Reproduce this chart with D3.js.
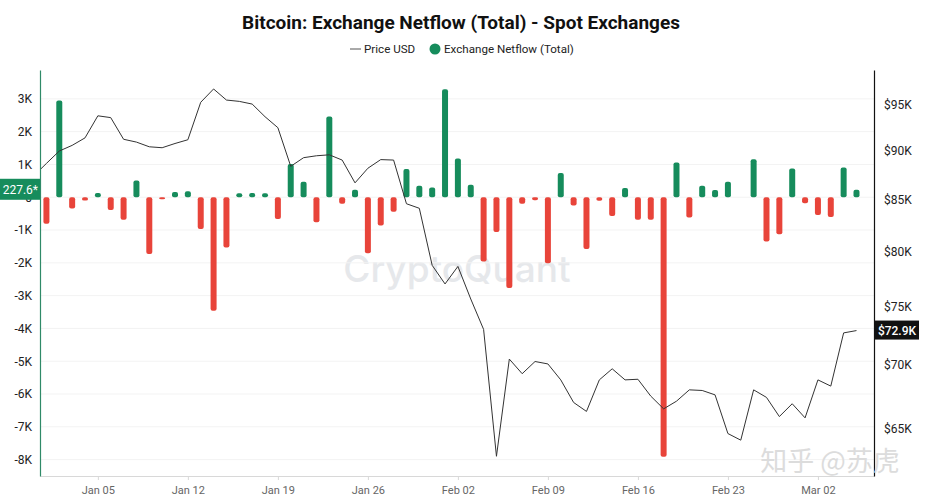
<!DOCTYPE html>
<html>
<head>
<meta charset="utf-8">
<script src="https://cdn.jsdelivr.net/npm/d3@7"></script>
<style>
  body { margin: 0; background: #fff; }
  svg { display: block; font-family: Roboto, "Noto Sans", sans-serif; }
</style>
</head>
<body>
<div id="chart"></div>
<script>
// price series starts one day before the netflow bars (Dec 31)
const priceStart = Date.UTC(2025, 11, 31);

// daily netflow (BTC), Jan 01 .. Mar 05
const netflow = [
  -810, 2950, -340, -100, 130, -390, -690, 510, -1730, -60,
  160, 180, -970, -3460, -1530, 120, 130, 120, -660, 1010,
  470, -760, 2460, -200, 230, -1710, -860, -440, 860, 350,
  300, 3290, 1180, 380, -1960, -1060, -2770, -200, -90, -2010,
  740, -250, -1580, -110, -570, 280, -690, -690, -7910, 1060,
  -620, 350, 220, 470, 0, 1160, -1350, -1130, 880, -180,
  -540, -600, 910, 227.6
];

// daily BTC price (USD), Dec 31 .. Mar 05
const price = [
  87400,
  88700, 90000, 90600, 91400, 93800, 93600, 91250, 90950, 90450, 90350,
  90800, 91200, 95300, 96800, 95550, 95400, 95100, 93700, 92500, 88400,
  89300, 89500, 89600, 89050, 86700, 88200, 89100, 89050, 84600, 84150,
  78700, 77000, 78600, 75650, 73000, 62900, 70500, 69300, 70300, 70100,
  68800, 67000, 66300, 68800, 69700, 68800, 68850, 67500, 66500, 67100,
  68000, 67950, 67600, 64600, 64100, 68000, 67400, 65900, 66900, 65800,
  68800, 68300, 72700, 72900
];

const netflowTicks = [-8000, -7000, -6000, -5000, -4000, -3000, -2000, -1000, 0, 1000, 2000, 3000];
const priceTicks = [65000, 70000, 75000, 80000, 85000, 90000, 95000];
const weekTicks = ["2026-01-05", "2026-01-12", "2026-01-19", "2026-01-26", "2026-02-02",
                   "2026-02-09", "2026-02-16", "2026-02-23", "2026-03-02"];

const green = "#168c5c", red = "#e8443a";
const width = 926, height = 500;
const margins = {top: 70, right: 52, bottom: 24, left: 40};

const days = d3.utcDay.range(new Date(priceStart), d3.utcDay.offset(new Date(priceStart), price.length));
const priceData = days.map((d, i) => ({date: d, value: price[i]}));
const flowData = days.slice(1).map((d, i) => ({date: d, value: netflow[i]}));

const svg = d3.select("#chart")
  .append("svg")
  .attr("width", width)
  .attr("height", height);

const xScale = d3.scaleUtc()
  .domain([new Date(Date.UTC(2025, 11, 31, 12)), new Date(Date.UTC(2026, 2, 6, 8, 40))])
  .range([margins.left, width - margins.right]);

const yLeft = d3.scaleLinear()
  .domain([-8500, 3880])
  .range([height - margins.bottom, margins.top]);

const yRight = d3.scaleLog()
  .domain([61460, 98980])
  .range([height - margins.bottom, margins.top]);

// watermark
svg.append("text")
  .attr("x", 457)
  .attr("y", 282)
  .attr("text-anchor", "middle")
  .style("font-family", "Inter, sans-serif")
  .style("font-size", "37px")
  .style("font-weight", 500)
  .style("fill", "#e6e8eb")
  .text("CryptoQuant");

// grid
svg.append("g")
  .selectAll("line")
  .data(netflowTicks)
  .join("line")
    .attr("x1", margins.left)
    .attr("x2", width - margins.right)
    .attr("y1", d => yLeft(d))
    .attr("y2", d => yLeft(d))
    .attr("stroke", "#f3f3f3");

// bars
svg.append("g")
  .selectAll("rect")
  .data(flowData.filter(d => d.value !== 0))
  .join("rect")
    .attr("x", d => xScale(d.date) - 3)
    .attr("width", 6)
    .attr("y", d => d.value > 0 ? yLeft(d.value) : yLeft(0))
    .attr("height", d => Math.abs(yLeft(d.value) - yLeft(0)))
    .attr("rx", 2)
    .attr("fill", d => d.value > 0 ? green : red);

// price line
svg.append("clipPath")
  .attr("id", "plot-clip")
  .append("rect")
    .attr("x", margins.left)
    .attr("y", margins.top)
    .attr("width", width - margins.left - margins.right)
    .attr("height", height - margins.top - margins.bottom);

const line = d3.line()
  .x(d => xScale(d.date))
  .y(d => yRight(d.value));

svg.append("path")
  .datum(priceData)
  .attr("clip-path", "url(#plot-clip)")
  .attr("d", line)
  .attr("fill", "none")
  .attr("stroke", "#333")
  .attr("stroke-width", 1);

// axes
const xAxis = d3.axisBottom(xScale)
  .tickValues(weekTicks.map(s => new Date(s + "T00:00:00Z")))
  .tickSize(4)
  .tickSizeOuter(0)
  .tickPadding(6)
  .tickFormat(d3.utcFormat("%b %d"));

svg.append("g")
  .attr("transform", `translate(0,${height - margins.bottom})`)
  .call(xAxis)
  .call(g => g.select(".domain").attr("stroke", "#d8d8d8"))
  .call(g => g.selectAll(".tick line").attr("stroke", "#d8d8d8"))
  .call(g => g.selectAll("text").style("font-size", "11px").style("fill", "#666").style("font-family", "Roboto, sans-serif"));

const yAxis = d3.axisLeft(yLeft)
  .tickValues(netflowTicks)
  .tickSize(0)
  .tickPadding(8)
  .tickFormat(d => d === 0 ? "0" : `${d / 1000}K`);

svg.append("g")
  .attr("transform", `translate(${margins.left},0)`)
  .call(yAxis)
  .call(g => g.select(".domain").attr("stroke", "#2f8a68").attr("stroke-width", 1.2))
  .call(g => g.selectAll("text").style("font-size", "12px").style("fill", "#222").style("font-family", "Roboto, sans-serif"));

const priceAxis = d3.axisRight(yRight)
  .tickValues(priceTicks)
  .tickSize(0)
  .tickPadding(10)
  .tickFormat(d => `$${d / 1000}K`);

svg.append("g")
  .attr("transform", `translate(${width - margins.right},0)`)
  .call(priceAxis)
  .call(g => g.select(".domain").attr("stroke", "#111").attr("stroke-width", 1.2))
  .call(g => g.selectAll("text").style("font-size", "12px").style("fill", "#222").style("font-family", "Roboto, sans-serif"));

// latest value labels
const lastFlow = flowData[flowData.length - 1];
const lastPrice = priceData[priceData.length - 1];

svg.append("rect")
  .attr("x", 0)
  .attr("y", yLeft(lastFlow.value) - 11)
  .attr("width", margins.left)
  .attr("height", 21)
  .attr("fill", green);

svg.append("text")
  .attr("x", margins.left - 2)
  .attr("y", yLeft(lastFlow.value))
  .attr("dy", "0.35em")
  .attr("text-anchor", "end")
  .style("font-size", "12px")
  .style("fill", "#fff")
  .text(`${lastFlow.value}*`);

svg.append("rect")
  .attr("x", width - margins.right + 1)
  .attr("y", yRight(lastPrice.value) - 10)
  .attr("width", 44)
  .attr("height", 19)
  .attr("fill", "#111");

svg.append("text")
  .attr("x", width - margins.right + 23)
  .attr("y", yRight(lastPrice.value))
  .attr("dy", "0.35em")
  .attr("text-anchor", "middle")
  .style("font-size", "12px")
  .style("font-weight", 500)
  .style("fill", "#fff")
  .text(`$${d3.format(".1f")(lastPrice.value / 1000)}K`);

// title and legend
svg.append("text")
  .attr("x", 461)
  .attr("y", 29)
  .attr("text-anchor", "middle")
  .style("font-size", "19px")
  .style("font-weight", 700)
  .style("fill", "#111")
  .text("Bitcoin: Exchange Netflow (Total) - Spot Exchanges");

const legend = svg.append("g");
legend.append("line")
  .attr("x1", 350).attr("x2", 361)
  .attr("y1", 49).attr("y2", 49)
  .attr("stroke", "#555");
legend.append("text")
  .attr("x", 364).attr("y", 53)
  .style("font-size", "11.6px").style("fill", "#222")
  .text("Price USD");
legend.append("circle")
  .attr("cx", 435).attr("cy", 49).attr("r", 5.5)
  .attr("fill", green);
legend.append("text")
  .attr("x", 444).attr("y", 53)
  .style("font-size", "11.6px").style("fill", "#222")
  .text("Exchange Netflow (Total)");

svg.append("text")
  .attr("x", 830)
  .attr("y", 471)
  .attr("text-anchor", "middle")
  .style("font-family", "'Noto Sans CJK SC', sans-serif")
  .style("font-size", "27px")
  .style("fill", "#dcdcdc")
  .text("知乎 @苏虎");
</script>
</body>
</html>
